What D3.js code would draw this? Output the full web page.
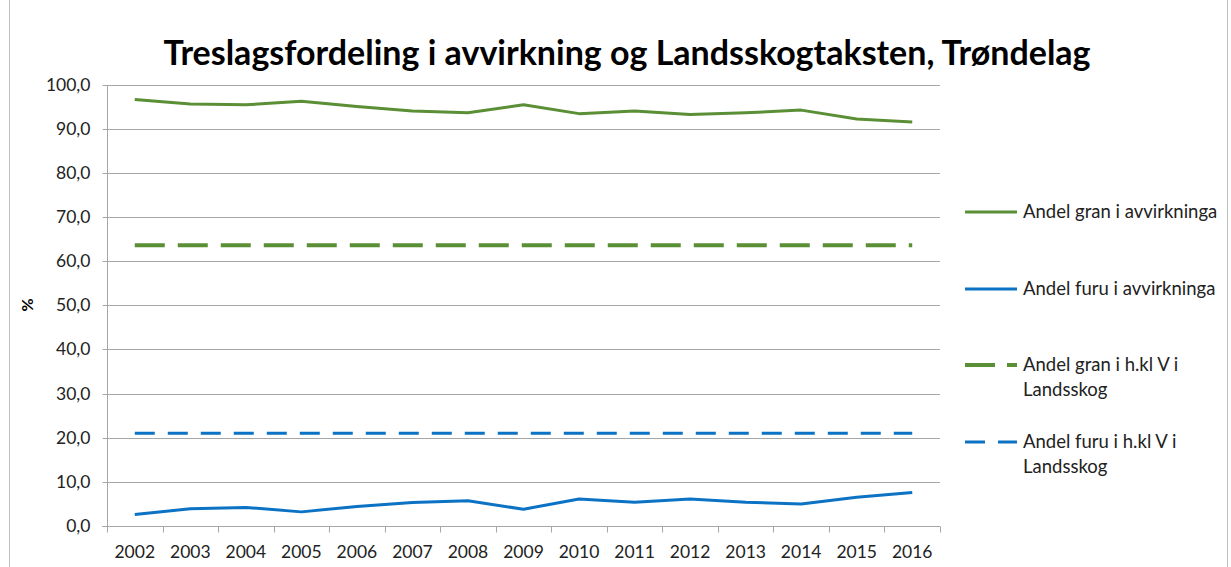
<!DOCTYPE html>
<html><head><meta charset="utf-8">
<script src="https://cdn.jsdelivr.net/npm/d3@7"></script>
<style>body{margin:0;background:#fff}svg{display:block}text{font-family:Lato,"Open Sans",sans-serif}</style>
</head><body>
<script>
const years = ["2002","2003","2004","2005","2006","2007","2008","2009","2010","2011","2012","2013","2014","2015","2016"];
const granAvv = [96.6,95.6,95.4,96.2,95.0,94.0,93.6,95.4,93.4,94.0,93.2,93.6,94.2,92.2,91.5];
const furuAvv = [2.6,3.9,4.2,3.2,4.4,5.3,5.7,3.8,6.1,5.4,6.1,5.4,5.0,6.5,7.6];
const granLandsskog = years.map(() => 63.6);
const furuLandsskog = years.map(() => 21.0);
const yTicks = [0,10,20,30,40,50,60,70,80,90,100];
const title = "Treslagsfordeling i avvirkning og Landsskogtaksten, Trøndelag";
const seriesNames = ["Andel gran i avvirkninga","Andel furu i avvirkninga","Andel gran i h.kl V i Landsskog","Andel furu i h.kl V i Landsskog"];

const W=1231,H=567;
const svg=d3.select("body").append("svg").attr("width",W).attr("height",H);
const m={l:107,r:940,t:84.5,b:526};
const x=d3.scaleBand().domain(years).range([m.l,m.r]);
const y=d3.scaleLinear().domain([0,100]).range([m.b,m.t]);

svg.append("rect").attr("x",9.5).attr("y",-2).attr("width",1218).attr("height",H+4).attr("fill","none").attr("stroke","#bfbfbf");

// gridlines
svg.append("g").selectAll("line").data(yTicks.filter(d=>d>0)).join("line")
 .attr("x1",m.l).attr("x2",m.r).attr("y1",d=>Math.round(y(d))+0.5).attr("y2",d=>Math.round(y(d))+0.5)
 .attr("stroke","#a6a6a6").attr("stroke-width",1);

// y axis
const ya=svg.append("g").attr("transform",`translate(${m.l+0.5},0.5)`)
 .call(d3.axisLeft(y).tickValues(yTicks).tickSize(5).tickPadding(12).tickFormat(d=>d.toFixed(1).replace(".",",")));
ya.select(".domain").attr("stroke","#a6a6a6").attr("d",`M0,${y(100)}V${y(0)}`);
ya.selectAll(".tick line").attr("stroke","#a6a6a6");
ya.selectAll(".tick text").attr("font-size",17.5).attr("fill","#222").attr("font-family","Lato");
ya.selectAll(".tick").attr("transform",d=>`translate(0,${Math.round(y(d))})`);

// x axis
const xa=svg.append("g").attr("transform",`translate(0,${Math.round(m.b)+0.5})`);
xa.append("line").attr("x1",m.l-5).attr("x2",m.r).attr("stroke","#a6a6a6");
const bounds=years.map(d=>x(d)).concat([m.r]);
xa.selectAll("line.tk").data(bounds).join("line").attr("class","tk")
 .attr("x1",d=>Math.round(d)+0.5).attr("x2",d=>Math.round(d)+0.5).attr("y1",0).attr("y2",6).attr("stroke","#a6a6a6");
xa.selectAll("text").data(years).join("text").attr("x",d=>x(d)+x.bandwidth()/2).attr("y",31)
 .attr("text-anchor","middle").attr("font-size",17.5).attr("fill","#222").text(d=>d);

// title
svg.append("text").attr("x",627).attr("y",65).attr("text-anchor","middle").attr("font-size",34)
 .attr("font-weight","bold").attr("fill","#000").text(title);
// y label
svg.append("text").attr("transform","translate(33,305) rotate(-90)").attr("text-anchor","middle")
 .attr("font-size",16).attr("font-weight","bold").text("%");

const line=d3.line().x((d,i)=>x(years[i])+x.bandwidth()/2).y(d=>y(d));
const green="#5b8f36", blue="#0b72c4";
const defs=[
 {v:granAvv,c:green,w:3,dash:null},
 {v:furuAvv,c:blue,w:3,dash:null},
 {v:granLandsskog,c:green,w:4,dash:"30,13"},
 {v:furuLandsskog,c:blue,w:3,dash:"20,13"}];
defs.forEach(s=>{
 svg.append("path").datum(s.v).attr("d",line).attr("fill","none").attr("stroke",s.c)
  .attr("stroke-width",s.w).attr("stroke-linejoin","round").attr("stroke-dasharray",s.dash);
});

// legend
const legY=[212,289,365,442];
const lg=svg.append("g");
seriesNames.forEach((n,i)=>{
 const s=defs[i];
 if(s.dash){
  const parts = i===2 ? [[965,995],[1007,1017]] : [[965,985],[998,1017]];
  parts.forEach(p=>lg.append("line").attr("x1",p[0]).attr("x2",p[1]).attr("y1",legY[i]).attr("y2",legY[i]).attr("stroke",s.c).attr("stroke-width",s.w));
 } else {
  lg.append("line").attr("x1",965).attr("x2",1017).attr("y1",legY[i]).attr("y2",legY[i]).attr("stroke",s.c).attr("stroke-width",s.w);
 }
 const t=lg.append("text").attr("x",1023).attr("y",legY[i]+6).attr("font-size",18.5).attr("fill","#222");
 if(s.dash){
  const words=n.split(" i Landsskog");
  t.append("tspan").attr("x",1023).text(words[0]+" i");
  t.append("tspan").attr("x",1023).attr("dy",25).text("Landsskog");
 } else t.text(n);
});
</script>
</body></html>
